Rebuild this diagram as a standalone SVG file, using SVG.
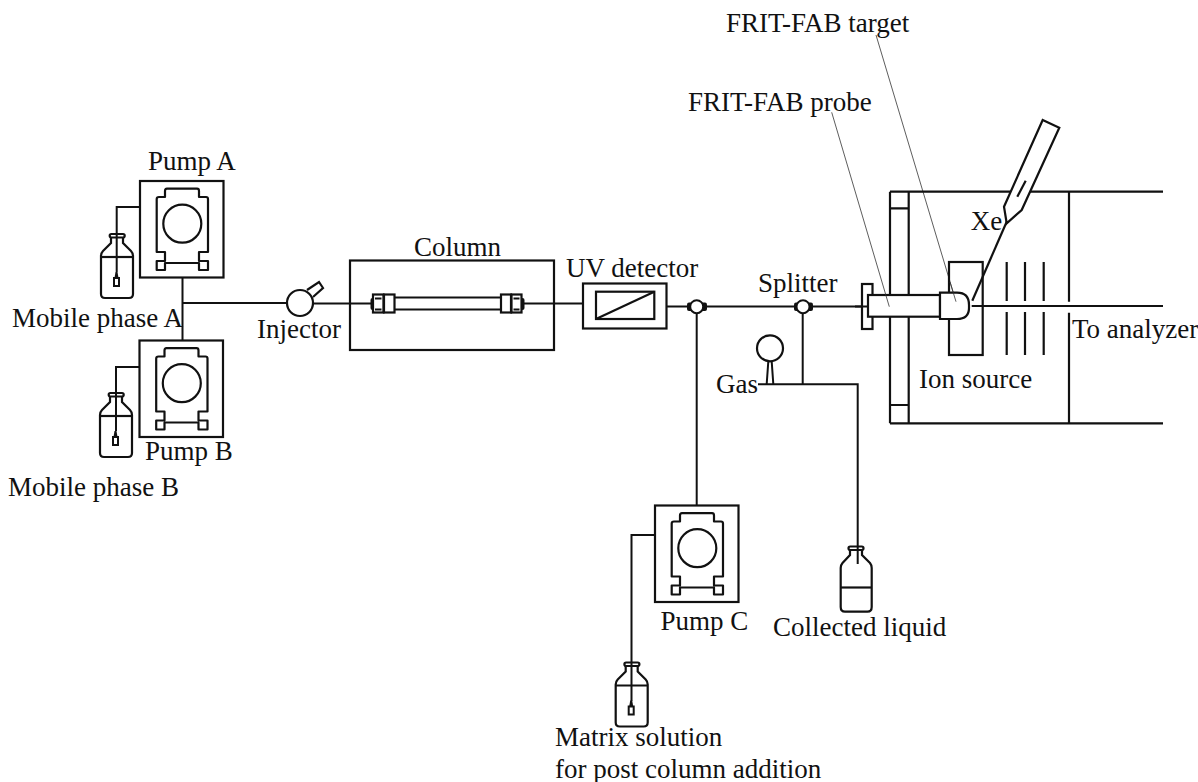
<svg xmlns="http://www.w3.org/2000/svg" width="1198" height="782" viewBox="0 0 1198 782">
<style>
.l{fill:none;stroke:#111;stroke-width:2.2}
.w{fill:#fff;stroke:#111;stroke-width:2.2}
.t{fill:none;stroke:#111;stroke-width:2}
.f{fill:none;stroke:#333;stroke-width:.8}
text{font-family:"Liberation Serif","Times New Roman",serif;font-size:27px;fill:#111}
</style>
<defs>
<g id="pump">
<rect class="l" x="0" y="0" width="83.5" height="96.5"/>
<path class="l" d="M25 10Q25 7.700 27 7.700H57Q59 7.700 59 10V16H66Q68 16 68 18V71H59V80H68V89H59V82H25V89H16.700V80H25V71H16.700V18Q16.700 16 19 16H25Z" stroke-linejoin="round"/>
<circle class="l" cx="42.300" cy="42.700" r="19"/>
</g>
<g id="bottle">
<path class="l" d="M10 3.500V9L2 17Q0 19 0 22V60Q0 64 4 64H28Q32 64 32 60V22Q32 19 30 17L22 9V3.500"/>
<rect class="l" x="8.700" y="0" width="15" height="3.500" rx="1.700"/>
<path class="l" d="M0 23H32" stroke-width="1.800"/>
</g>
<g id="sinker">
<path d="M13.500 44L14.500 38H16.500L17.500 44Z" fill="#111"/>
<rect x="13" y="44" width="5" height="8" fill="#fff" stroke="#111" stroke-width="2"/>
</g>
</defs>

<g id="connectors">
<path class="t" d="M182.500 277V340M183 303H287"/>
<path class="t" d="M140 207H116.700V272"/>
<path class="t" d="M139.500 367H116V431"/>
<path class="t" d="M313 303.500H373M522 303.500H583"/>
<path class="t" d="M667 306.500H690M707 306.500H794M813 306.500H868"/>
<path class="t" d="M696.700 314V505"/>
<path class="t" d="M802.700 314V384.300"/>
<path class="t" d="M758 384.300H857.700V564"/>
<path class="t" d="M655 535H631.500V701"/>
<path class="f" d="M831.700 112.300L889.300 306.700"/>
<path class="f" d="M876 35L956 301.700"/>
</g>

<g id="pump-a"><use href="#pump" x="140" y="181"/><text x="148" y="170">Pump A</text></g>
<g id="bottle-a"><use href="#bottle" x="101" y="234"/><use href="#sinker" x="101" y="234"/><text x="12" y="327">Mobile phase A</text></g>
<g id="pump-b"><use href="#pump" x="139.500" y="340.500"/><text x="145" y="460">Pump B</text></g>
<g id="bottle-b"><use href="#bottle" x="100" y="393"/><use href="#sinker" x="100" y="393"/><text x="8" y="496">Mobile phase B</text></g>

<g id="injector">
<circle class="l" cx="300" cy="303" r="13"/>
<path class="l" d="M307 290L319 282L323 288L313 297"/>
<text x="257" y="338">Injector</text>
</g>

<g id="column">
<rect class="l" x="350" y="260.500" width="204" height="89.500"/>
<path class="l" d="M394.500 297.500H501M394.500 309.500H501"/>
<rect x="370.500" y="298" width="4" height="12" rx="2" fill="#111"/>
<rect x="520.500" y="298" width="4" height="12" rx="2" fill="#111"/>
<rect class="w" x="373" y="294.500" width="10.500" height="18"/>
<rect class="w" x="384" y="294.500" width="10.500" height="18"/>
<rect class="w" x="501" y="294.500" width="10" height="18"/>
<rect class="w" x="511.500" y="294.500" width="10" height="18"/>
<path class="t" d="M375 298.500H381.500M375 309.500H381.500M513.500 298.500H519.500M513.500 309.500H519.500"/>
<text x="414" y="256">Column</text>
</g>

<g id="uv-detector">
<rect class="l" x="583" y="283.500" width="83.500" height="45"/>
<rect class="l" x="596" y="291.700" width="58.300" height="27.300"/>
<path class="l" d="M596 319L654.300 291.700"/>
<text x="566" y="277">UV detector</text>
</g>

<g id="tee">
<rect x="687" y="302.500" width="20" height="8.500" rx="2" fill="#111"/>
<circle cx="696.700" cy="306.700" r="6.500" fill="#fff" stroke="#111" stroke-width="2"/>
</g>

<g id="splitter">
<rect x="794" y="302.500" width="19" height="8.500" rx="2" fill="#111"/>
<circle cx="803" cy="306.700" r="6.500" fill="#fff" stroke="#111" stroke-width="2"/>
<text x="758" y="292">Splitter</text>
</g>

<g id="gas">
<circle class="l" cx="770" cy="348.300" r="13"/>
<path class="t" d="M768.300 361.500L766.700 384M771.700 361.500L773.300 384"/>
<text x="716" y="393">Gas</text>
</g>

<g id="ion-source">
<path class="l" d="M890 191.700H1163M890 423.300H1163M890 191.700V295M890 317V423.300M908.700 191.700V295M908.700 317V423.300M890 208.300H908.700M890 405H908.700"/>
<path class="l" d="M1069 191.700V301.700M1069 312.700V423.300"/>
<path class="t" d="M971.700 306H1163"/>
<rect class="l" x="949" y="262" width="33.700" height="93"/>
<path class="l" d="M1006.700 262V301M1025 262V301M1043.700 262V301M1006.700 312V355M1025 312V355M1043.700 312V355"/>
<text x="919" y="388">Ion source</text>
<text x="1072" y="338">To analyzer</text>
<text x="970.700" y="230">Xe</text>
</g>

<g id="probe">
<rect class="w" x="862" y="284" width="10.500" height="45"/>
<rect class="w" x="868" y="295" width="72" height="21.700"/>
<path class="w" d="M940 292.700H957Q969 292.700 969 305V308Q969 319 957 319H940Z"/>
<path class="t" d="M855 306.500H868"/>
<path class="f" d="M889.300 306.700L885.500 294M956 301.700L950 282"/>
</g>

<g id="xe-gun">
<path class="w" d="M1042.700 120L1059.300 127.700L1021.700 210L1006.700 223.300L1004 206.700Z"/>
<path class="l" d="M1025.700 180.700L1017.300 196.700"/>
<path class="l" d="M1006.700 221.700L972.300 300.700"/>
</g>

<g id="pump-c"><use href="#pump" x="655" y="505.500"/><text x="660.500" y="630">Pump C</text></g>
<g id="bottle-c"><use href="#bottle" x="615.700" y="662.500"/><use href="#sinker" x="615.700" y="662.500"/><text x="555" y="746">Matrix solution</text><text x="555" y="778">for post column addition</text></g>

<g id="collected">
<path class="l" d="M850 550V555L842.500 563Q840.700 565 840.700 568V607Q840.700 611.700 845 611.700H867.500Q871.700 611.700 871.700 607V568Q871.700 565 870 563L862 555V550"/>
<rect class="l" x="848.500" y="546.500" width="15" height="3.500" rx="1.700"/>
<path class="l" d="M840.700 587.500H871.700" stroke-width="1.800"/>
<text x="773" y="636">Collected liquid</text>
</g>

<g id="labels">
<text x="688" y="111">FRIT-FAB probe</text>
<text x="726" y="32">FRIT-FAB target</text>
</g>
</svg>
